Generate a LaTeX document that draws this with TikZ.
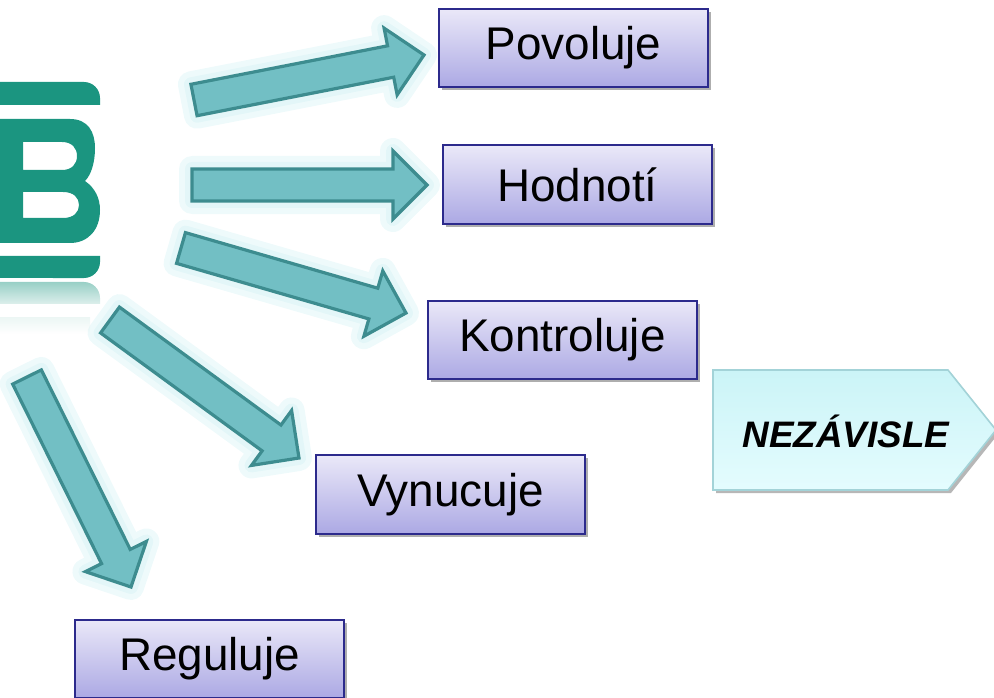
\documentclass[tikz,border=0pt]{standalone}
\usepackage{fontspec}
\setmainfont{Liberation Sans}
\usetikzlibrary{calc,shadows}

\definecolor{logogreen}{HTML}{1B9580}
\definecolor{arrowfill}{HTML}{72BFC4}
\definecolor{arrowline}{HTML}{3D8C8F}
\definecolor{glowc}{HTML}{C8EEF1}
\definecolor{boxtop}{HTML}{EAE8F8}
\definecolor{boxbot}{HTML}{ACA9E4}
\definecolor{boxline}{HTML}{2C2A8C}
\definecolor{sigtop}{HTML}{CBF4F7}
\definecolor{sigbot}{HTML}{E4FCFE}
\definecolor{sigline}{HTML}{A3D3D8}

\tikzset{
  fatarrow/.style={to path={
    ($(\tikztostart)!8bp!90:(\tikztotarget)$) --
    ($(\tikztotarget)!17bp!(\tikztostart)!8bp!90:(\tikztotarget)$) --
    ($(\tikztotarget)!17bp!(\tikztostart)!17bp!90:(\tikztotarget)$) --
    (\tikztotarget) --
    ($(\tikztotarget)!17bp!(\tikztostart)!17bp!-90:(\tikztotarget)$) --
    ($(\tikztotarget)!17bp!(\tikztostart)!8bp!-90:(\tikztotarget)$) --
    ($(\tikztostart)!8bp!-90:(\tikztotarget)$) -- cycle}},
  glowline/.style={draw=glowc, line width=#1, line join=round, opacity=.3},
  arrowbody/.style={fill=arrowfill, draw=arrowline, line width=1.6bp},
  actbox/.style={draw=boxline, line width=1bp, top color=boxtop, bottom color=boxbot,
    minimum width=134.5bp, minimum height=39bp, inner sep=0pt,
    font=\fontsize{23}{27}\selectfont,
    drop shadow={shadow xshift=1.5bp, shadow yshift=-1.5bp, opacity=.45, fill=black!70}},
}

\begin{document}
\begin{tikzpicture}[x=0.5bp, y=-0.5bp]
  \useasboundingbox (0,0) rectangle (994,698);

  % Logo
  \fill[logogreen] (-5,105) -- (-5,82) -- (84,82) arc[start angle=90, end angle=0, radius=8bp]
    -- (100,105) -- cycle;
  \fill[logogreen, even odd rule] (-5,119) -- (70,119)
    .. controls (88,119) and (95,132) .. (95,148)
    .. controls (95,163) and (91,175) .. (85,181)
    .. controls (95,188) and (100,198) .. (100,210)
    .. controls (100,230) and (88,243) .. (70,243) -- (-5,243) -- cycle
    (23,142) -- (62,142) .. controls (72,142) and (77,148) .. (77,156)
    .. controls (77,164) and (72,170) .. (62,170) -- (23,170) -- cycle
    (23,192) -- (63,192) .. controls (74,192) and (79,198) .. (79,205)
    .. controls (79,212) and (74,218) .. (63,218) -- (23,218) -- cycle;
  \fill[logogreen] (-5,256) -- (100,256) -- (100,262) arc[start angle=0, end angle=-90, radius=8bp]
    -- (-5,278) -- cycle;
  % Reflection
  \shade[top color=logogreen!45, bottom color=logogreen!15] (-5,304) -- (-5,282) -- (84,282)
    arc[start angle=90, end angle=0, radius=8bp] -- (100,304) -- cycle;
  \shade[top color=logogreen!8, bottom color=white] (-5,318) rectangle (90,334);

  % Arrow ends
  \coordinate (povt) at (194,100);  \coordinate (povh) at (424,55);
  \coordinate (hodt) at (192,185);  \coordinate (hodh) at (427,185);
  \coordinate (kont) at (181,248);  \coordinate (konh) at (406,313);
  \coordinate (vynt) at (110,320);  \coordinate (vynh) at (299,458);
  \coordinate (regt) at (27,377);   \coordinate (regh) at (131,587);

  % Arrows
  \foreach \t/\h in {povt/povh, hodt/hodh, kont/konh, vynt/vynh, regt/regh} {
    \path[glowline=13bp] (\t) to[fatarrow] (\h);
    \path[glowline=7bp] (\t) to[fatarrow] (\h);
  }
  \foreach \t/\h in {povt/povh, hodt/hodh, kont/konh, vynt/vynh, regt/regh}
    \draw[arrowbody] (\t) to[fatarrow] (\h);

  % Actions
  \node[actbox] (pov) at (573.5,48) {Povoluje};
  \node[actbox] (hod) at (577.5,184.5) {Hodnotí};
  \node[actbox] (kon) at (562.5,340) {Kontroluje};
  \node[actbox] (vyn) at (450.5,494.5) {Vynucuje};
  \node[actbox] (reg) at (209.5,658.5) {Reguluje};

  % Independence tag
  \draw[sigline, line width=0.8bp, top color=sigtop, bottom color=sigbot,
    drop shadow={shadow xshift=1.5bp, shadow yshift=-1.5bp, opacity=.4, fill=black!70}]
    (713,370) -- (948,370) -- (996,430) -- (948,490) -- (713,490) -- cycle;
  \node[font=\fontsize{18.5}{22}\selectfont\bfseries\itshape] (nez) at (846,431) {NEZÁVISLE};
\end{tikzpicture}
\end{document}
